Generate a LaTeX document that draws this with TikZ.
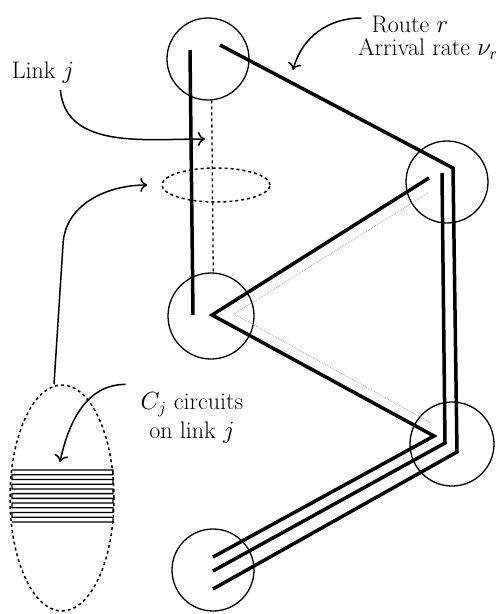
\documentclass[tikz,border=0pt]{standalone}
\usetikzlibrary{arrows.meta,shapes.geometric}

\begin{document}
\begin{tikzpicture}[x=1pt,y=-1pt,
  switch/.style={draw,circle,line width=1.3pt,minimum size=82pt,inner sep=0pt},
  route/.style={line width=3.5pt},
  faint/.style={line width=0.8pt,black!35,densely dotted},
  ring/.style={draw,ellipse,dashed,line width=1.5pt,inner sep=0pt},
  pointer/.style={line width=1.5pt,-{Computer Modern Rightarrow[length=7pt,width=14pt,line width=1.5pt]}},
  txt/.style={font=\fontsize{24}{29}\selectfont,inner sep=0pt,align=center}]
\useasboundingbox (0,0) rectangle (496,614);

% switching nodes
\node[switch] (a) at (208,59) {};
\node[switch] (b) at (447,182) {};
\node[switch, minimum size=86pt] (c) at (211,316) {};
\node[switch, minimum size=84pt] (d) at (452,444) {};
\node[switch] (e) at (213,570) {};

% routes through the network
\draw[route] ([shift={(12,-14)}]a.center) -- ([shift={(6,-14)}]b.center)
  -- ([shift={(5,8)}]d.center) -- ([shift={(0,19)}]e.center);
\draw[route] ([shift={(-5,-9)}]b.center) -- ([shift={(-7,-1)}]d.center)
  -- ([shift={(0,1)}]e.center);
\draw[route] ([shift={(-18,-9)}]a.center) -- ([shift={(-18,-1)}]c.center);
\draw[route] ([shift={(-18,-4)}]b.center) -- ([shift={(1,-1)}]c.center)
  -- ([shift={(-18,-8)}]d.center) -- ([shift={(0,-13)}]e.center);
\draw[faint] ([shift={(-19,11)}]b.center) -- ([shift={(23,-2)}]c.center)
  -- ([shift={(-21,-21)}]d.center);

% link j and its cut
\draw[dashed,line width=1.3pt] (a.-85) -- (c.87);
\node[ring, minimum width=108pt, minimum height=34pt] (cut) at (216,185) {};

% circuits of the link
\node[ring, minimum width=104pt, minimum height=226pt] (bundle) at (62,498) {};
\draw[line width=1.3pt] (12,470)
  foreach \k in {0,...,4} {
    -- (113,470+9.45*\k) -- (113,474.73+9.45*\k)
    -- (12,474.73+9.45*\k) -- (12,479.45+9.45*\k)}
  -- (113,517.25) -- (113,522) -- (12,522);

% labels
\node[txt] (linkj) at (43,73) {Link $j$};
\node[txt] (routelbl) at (410,24) {Route $r$};
\node[txt] (ratelbl) at (428,49) {Arrival rate $\nu_r$};
\node[txt] (cjlbl) at (192,418) {$C_j$ circuits\\on link $j$};

\draw[pointer] ([shift={(-14,6)}]linkj.south east) to[out=-85,in=180] (205,139);
\draw[pointer] ([xshift=-8pt]bundle.north) -- (63,245) to[out=88,in=180] ([xshift=-14pt]cut.west);
\draw[pointer] ([shift={(-10,-6)}]routelbl.west) to[out=180,in=75] (293,70);
\draw[pointer] ([shift={(-15,-8)}]cjlbl.north west) to[out=180,in=78] (60,462);
\end{tikzpicture}
\end{document}
